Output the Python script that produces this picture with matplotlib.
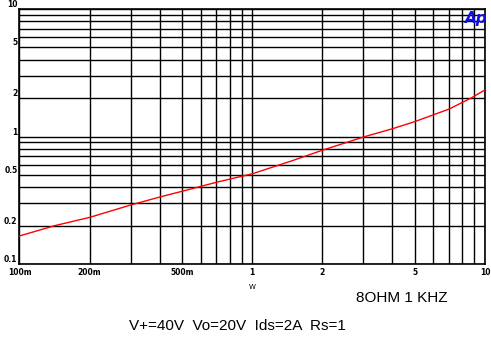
import numpy as np
import matplotlib
matplotlib.use("Agg")
import matplotlib.pyplot as plt
from matplotlib.ticker import FixedLocator, NullLocator

# Daten der Kurve (THD+N in %, gegen Leistung in W)
power_w = [0.1, 0.142, 0.2, 0.3, 0.4, 0.5, 0.7, 1.0, 1.5, 2.0, 3.0, 4.0, 5.0, 7.0, 8.7, 10.0]
thd_pct = [0.166, 0.20, 0.232, 0.29, 0.335, 0.372, 0.437, 0.51, 0.65, 0.78, 0.99, 1.15, 1.31, 1.64, 2.0, 2.32]

x_ticks = [0.1, 0.2, 0.5, 1, 2, 5, 10]
x_labels = ["100m", "200m", "500m", "1", "2", "5", "10"]
y_ticks = [0.1, 0.2, 0.5, 1, 2, 5, 10]
y_labels = ["0.1", "0.2", "0.5", "1", "2", "5", "10"]

titel1 = "8OHM 1 KHZ"
titel2 = "V+=40V  Vo=20V  Ids=2A  Rs=1"

fig = plt.figure(figsize=(4.91, 3.41), dpi=100)
ax = fig.add_axes([0.0397, 0.2258, 0.9481, 0.7478])

ax.plot(power_w, thd_pct, color="red", lw=1.0, zorder=3)

ax.set_xscale("log")
ax.set_yscale("log")
ax.set_xlim(0.1, 10)
ax.set_ylim(0.1, 10)

# Gitter: alle Dekadenlinien schwarz
grid = [m * 10.0 ** e for e in (-1, 0) for m in range(1, 10)] + [10]
ax.xaxis.set_major_locator(FixedLocator(x_ticks))
ax.yaxis.set_major_locator(FixedLocator(y_ticks))
ax.xaxis.set_minor_locator(NullLocator())
ax.yaxis.set_minor_locator(NullLocator())
ax.set_xticklabels(x_labels, fontsize=5.5, fontweight="bold")
ax.set_yticklabels(y_labels, fontsize=5.5, fontweight="bold")
for lab in ax.get_yticklabels():
    lab.set_va("bottom")
ax.tick_params(length=0, pad=1.5)
ax.tick_params(axis="x", pad=3)
for g in grid:
    ax.axvline(g, color="black", lw=1.0, zorder=1)
    ax.axhline(g, color="black", lw=1.0, zorder=1)
for s in ax.spines.values():
    s.set_linewidth(1.2)

ax.set_xlabel("W", fontsize=5, labelpad=5)

fig.text(0.725, 0.125, titel1, fontsize=11, family="Liberation Sans", ha="left", va="center")
fig.text(0.262, 0.043, titel2, fontsize=11, family="Liberation Sans", ha="left", va="center")
fig.text(0.946, 0.945, "Ap", fontsize=11, color="#1010e0", fontweight="bold",
         style="italic", ha="left", va="center")

fig.savefig("out.png", dpi=100)
